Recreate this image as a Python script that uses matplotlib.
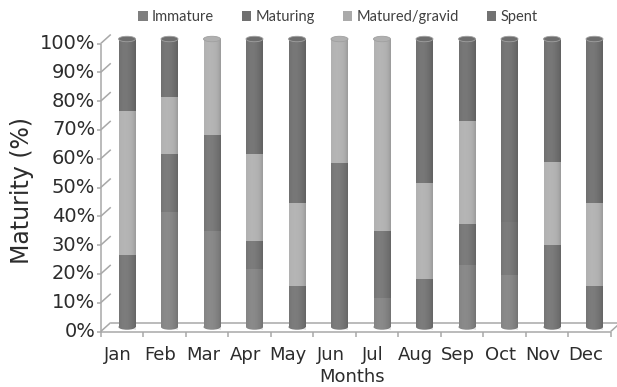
import numpy as np
import matplotlib
matplotlib.use('Agg')
import matplotlib.pyplot as plt
from matplotlib.patches import Ellipse, Patch
from matplotlib.transforms import offset_copy

# Monthly maturity stage composition (%)
months = ['Jan', 'Feb', 'Mar', 'Apr', 'May', 'Jun',
          'Jul', 'Aug', 'Sep', 'Oct', 'Nov', 'Dec']
immature = [0, 40, 33.3, 20, 0, 0, 10, 0, 21.4, 18.2, 0, 0]
maturing = [25, 20, 33.3, 10, 14.3, 57.1, 23.3, 16.7, 14.3, 18.2, 28.6, 14.3]
gravid = [50, 20, 33.4, 30, 28.6, 42.9, 66.7, 33.3, 35.7, 0, 28.6, 28.6]
spent = [25, 20, 0, 40, 57.1, 0, 0, 50, 28.6, 63.6, 42.8, 57.1]
stage_names = ['Immature', 'Maturing', 'Matured/gravid', 'Spent']
yticks = list(range(0, 101, 10))

stage_colors = ['#828282', '#737373', '#b0b0b0', '#6e6e6e']
legend_colors = ['#7f7f7f', '#707070', '#aaaaaa', '#727272']
line_col = '#a8a8a8'
txt_col = '#2c2c2c'

W, H = 617, 387
fig = plt.figure(figsize=(W / 100, H / 100), dpi=100)
ax = fig.add_axes([105.75 / W, 60 / H, 510 / W, 288 / H])
ax.set_xlim(-0.5, 11.5)
ax.set_ylim(0, 100)
ax.axis('off')

# depth offsets of the pseudo-3D box (data units)
DX = 5 / 42.5
DY = 4.5 / 2.88
lkw = dict(color=line_col, lw=1.1, clip_on=False, solid_capstyle='butt')

# floor
ax.plot([-0.5 + DX, 11.5 + DX], [DY, DY], zorder=1, **lkw)
ax.plot([-0.5 - DX, 11.5 - DX], [-DY, -DY], zorder=6, **lkw)
ax.plot([11.5 - DX, 11.5 + DX], [-DY, DY], zorder=6, **lkw)
# front value axis with diagonal wall ticks
ax.plot([-0.5 - DX, -0.5 - DX], [-DY, 100 - DY], zorder=6, **lkw)
for v in yticks:
    ax.plot([-0.5 - DX, -0.5 + DX], [v - DY, v + DY], zorder=1, **lkw)
    ax.plot([-0.5 - DX - 0.09, -0.5 - DX], [v - DY, v - DY], zorder=1, **lkw)
    ax.text(-0.5 - DX - 0.13, v - DY, f'{v}%', ha='right', va='center',
            fontsize=14, color=txt_col)
# category ticks on the front edge
for b in np.arange(-0.5, 12, 1):
    ax.plot([b - DX, b - DX], [-DY, -DY - 2.0], zorder=6, **lkw)

# stacked cylinders
x = np.arange(len(months))
bw = 0.4
eh = 1.9
data = [immature, maturing, gravid, spent]
bottom = np.zeros(len(months))
for vals, col in zip(data, stage_colors):
    vals = np.array(vals, dtype=float)
    ax.bar(x, vals, bottom=bottom, width=bw, color=col, linewidth=0, zorder=3)
    bottom += vals

t = np.linspace(0, 1, 64)
d = 0.07 - 0.45 * (t - 0.35) ** 2
shade = np.zeros((1, t.size, 4))
shade[0, :, :3] = (d > 0)[:, None].astype(float)
shade[0, :, 3] = np.abs(d)

for i in range(len(months)):
    segs = [s[i] for s in data]
    first = next(c for v, c in zip(segs, stage_colors) if v > 0)
    last = [c for v, c in zip(segs, stage_colors) if v > 0][-1]
    ax.add_patch(Ellipse((x[i], 0), bw, eh, facecolor=first, edgecolor='none',
                         zorder=2, clip_on=False))
    ax.imshow(shade, extent=(x[i] - bw / 2, x[i] + bw / 2, -eh / 2, bottom[i]),
              aspect='auto', interpolation='bilinear', zorder=4, clip_on=False)
    ax.add_patch(Ellipse((x[i], bottom[i]), bw, eh, facecolor=last,
                         edgecolor='#a0a0a0', lw=0.6, zorder=5, clip_on=False))
ax.set_xlim(-0.5, 11.5)
ax.set_ylim(0, 100)

lab_tr = offset_copy(ax.transData, fig=fig, x=-9, y=-28, units='dots')
for i, m in enumerate(months):
    ax.text(x[i], 0, m, transform=lab_tr, ha='center', va='center',
            fontsize=13, color=txt_col)
ttl_tr = offset_copy(ax.transData, fig=fig, x=-9, y=-50, units='dots')
ax.text(5.5, 0, 'Months', transform=ttl_tr, ha='center', va='center',
        fontsize=13, color=txt_col)
fig.text(22 / W, 197 / H, 'Maturity (%)', rotation=90, ha='center',
         va='center', fontsize=17, color=txt_col)

handles = [Patch(facecolor=c, edgecolor='none') for c in legend_colors]
fig.legend(handles, stage_names, ncol=4, loc='center',
           bbox_to_anchor=(338 / W, 1 - 17 / H), frameon=False,
           prop={'family': 'Lato', 'size': 10.5},
           handlelength=0.65, handleheight=0.65,
           handletextpad=0.3, columnspacing=1.9, labelcolor='#404040')

fig.savefig('out.png', dpi=100)
